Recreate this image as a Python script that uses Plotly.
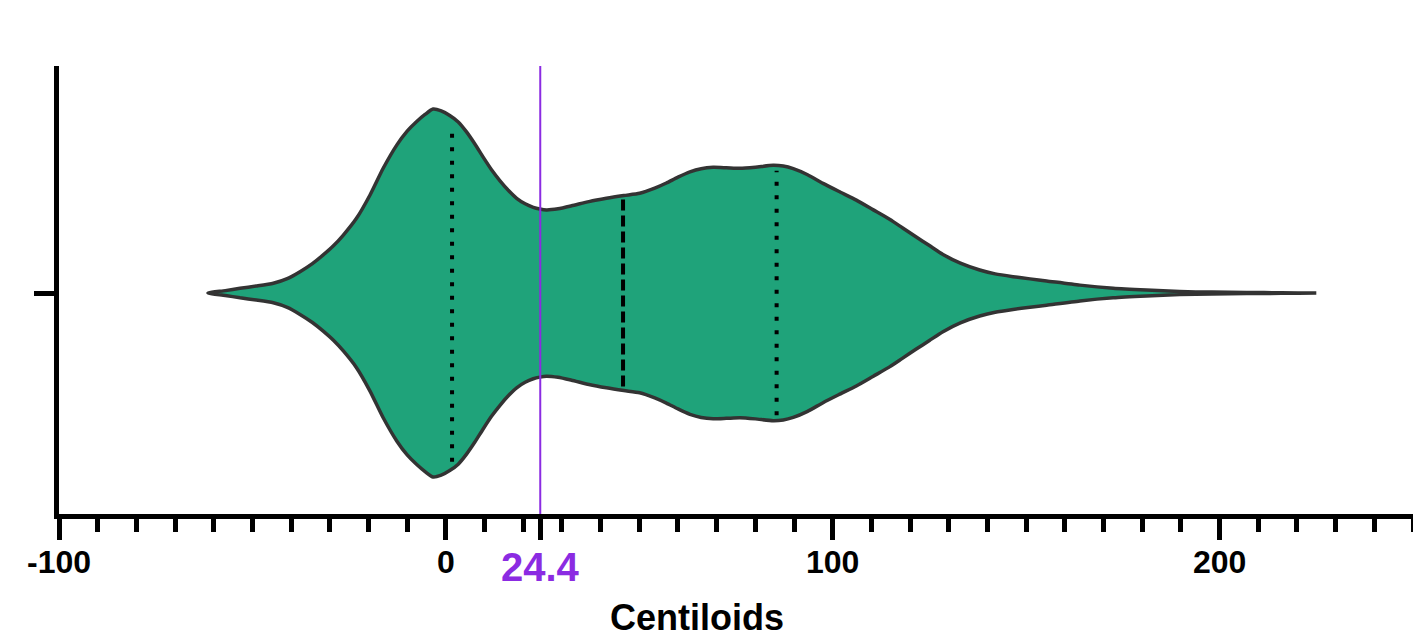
import numpy as np
import plotly.graph_objects as go

# Smoothed density outline of the Centiloid distribution (half-width relative to the modal peak)
centiloid_grid = [-61.5, -57.0, -53.2, -49.0, -44.6, -41.0, -37.7, -34.5, -31.7, -29.0,
                  -26.5, -23.1, -19.6, -16.2, -12.7, -10.0, -7.6, -5.3, -3.3, -1.2,
                  1.0, 3.2, 5.3, 7.5, 9.6, 11.8, 14.0, 16.2, 18.3, 20.5,
                  22.6, 24.3, 26.0, 29.0, 32.5, 37.0, 41.5, 46.0, 50.1, 54.0,
                  57.0, 60.0, 63.1, 66.0, 69.1, 72.5, 76.0, 80.0, 84.6, 87.2,
                  89.8, 93.5, 97.5, 102.0, 106.1, 110.5, 114.8, 118.0, 121.5, 125.0,
                  128.5, 133.0, 138.0, 142.0, 146.6, 151.0, 155.3, 163.9, 172.5, 181.1,
                  189.7, 198.0, 207.0, 216.0, 225.0]
relative_density = [0.0, 0.013, 0.026, 0.038, 0.053, 0.078, 0.116, 0.160, 0.207, 0.258,
                    0.315, 0.406, 0.533, 0.678, 0.804, 0.880, 0.931, 0.972, 1.0, 0.990,
                    0.965, 0.930, 0.877, 0.810, 0.740, 0.670, 0.610, 0.557, 0.515, 0.485,
                    0.466, 0.457, 0.452, 0.458, 0.474, 0.497, 0.515, 0.530, 0.542, 0.570,
                    0.598, 0.630, 0.659, 0.676, 0.683, 0.681, 0.678, 0.684, 0.694, 0.690,
                    0.676, 0.643, 0.596, 0.548, 0.505, 0.452, 0.400, 0.355, 0.306, 0.258,
                    0.210, 0.162, 0.125, 0.104, 0.089, 0.077, 0.066, 0.043, 0.026, 0.016,
                    0.008, 0.005, 0.003, 0.0015, 0.0]

# Quartiles of the distribution
quartile_names = ["Q1", "Median", "Q3"]
quartile_values = [1.6, 45.8, 85.5]
quartile_dash = ["4px,9.5px", "11px,5px", "4px,9.5px"]

# Positivity threshold
threshold_value = 24.4
threshold_label = "24.4"

# Axis ticks
major_tick_values = [-100, 0, 100, 200]
major_tick_labels = ["-100", "0", "100", "200"]

GREEN = "#1fa37a"
OUTLINE = "#333333"
PURPLE = "#8b2be2"

grid = np.array(centiloid_grid)
dens = np.array(relative_density)

fig = go.Figure()

# violin body: upper edge left-to-right, then lower edge back
fig.add_trace(go.Scatter(
    x=np.concatenate([grid, grid[::-1]]),
    y=np.concatenate([dens, -dens[::-1]]),
    mode="lines",
    fill="toself",
    fillcolor=GREEN,
    line=dict(color=OUTLINE, width=3.5, shape="spline", smoothing=0.6),
    hoverinfo="skip",
    showlegend=False,
))

# quartile markers spanning the violin at each quartile
for name, q, dash in zip(quartile_names, quartile_values, quartile_dash):
    h = float(np.interp(q, grid, dens)) * 0.96
    fig.add_trace(go.Scatter(
        x=[q, q], y=[-h, h], mode="lines", name=name,
        line=dict(color="black", width=4, dash=dash),
        hoverinfo="skip", showlegend=False,
    ))

# threshold line
fig.add_shape(type="line", xref="x", yref="paper",
              x0=threshold_value, x1=threshold_value, y0=0, y1=1,
              line=dict(color=PURPLE, width=2), layer="above")

fig.add_annotation(x=threshold_value, xref="x", y=-0.118, yref="paper",
                   text=threshold_label, showarrow=False, yanchor="middle",
                   font=dict(family="Arial", size=40, color=PURPLE, weight="bold"))

fig.add_annotation(x=0.471, xref="paper", y=-0.232, yref="paper",
                   text="Centiloids", showarrow=False, yanchor="middle",
                   font=dict(family="Arial", size=36, color="black", weight="bold"))

fig.update_layout(
    width=1413, height=640,
    margin=dict(l=59, r=0, t=66, b=126),
    paper_bgcolor="white", plot_bgcolor="white",
    xaxis=dict(
        range=[-100, 250], showgrid=False, zeroline=False,
        showline=True, linecolor="black", linewidth=5,
        tickmode="array",
        tickvals=major_tick_values + [threshold_value],
        ticktext=major_tick_labels + [""],
        ticks="outside", ticklen=21, tickwidth=5, tickcolor="black",
        ticklabelstandoff=-5,
        tickfont=dict(family="Arial", size=32, color="black", weight="bold"),
        minor=dict(dtick=10, tick0=0, ticks="outside", ticklen=13,
                   tickwidth=5, tickcolor="black", showgrid=False),
    ),
    yaxis=dict(
        range=[-1.201, 1.234], showgrid=False, zeroline=False,
        showline=True, linecolor="black", linewidth=5,
        tickmode="array", tickvals=[0], ticktext=[""],
        ticks="outside", ticklen=20, tickwidth=5, tickcolor="black",
    ),
)

fig.write_html("out.html")
